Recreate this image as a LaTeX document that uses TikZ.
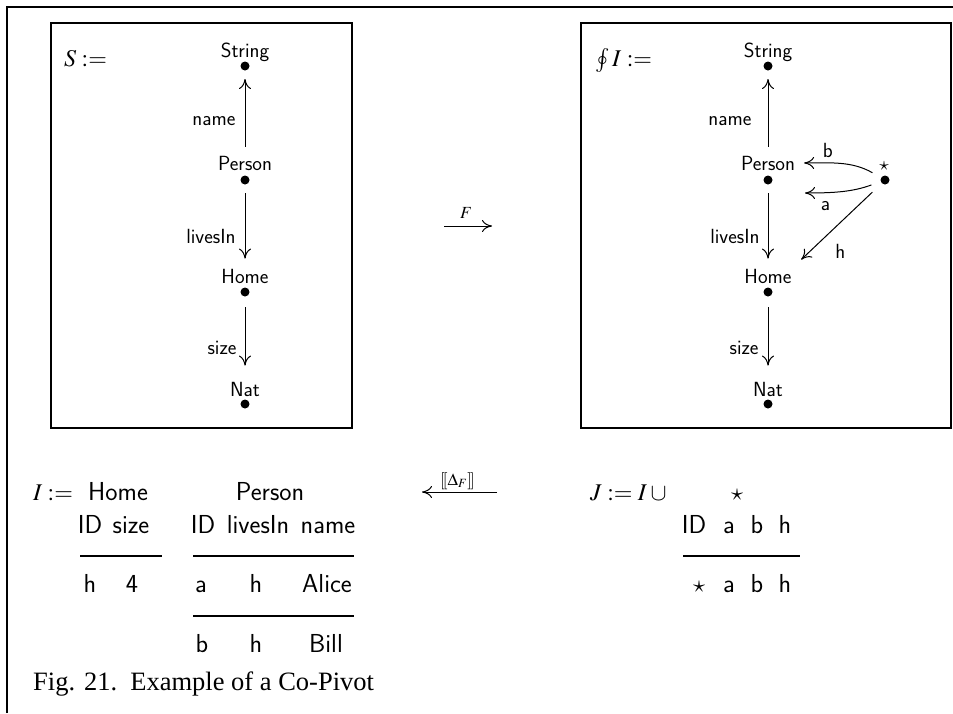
\documentclass[tikz,border=0pt]{standalone}
\usepackage{mathptmx}
\usepackage[no-math]{fontspec}
\setmainfont{Liberation Serif}
\usetikzlibrary{arrows.meta}
\tikzset{
  dot/.style={circle, fill=black, inner sep=0pt, minimum size=9pt, outer sep=0pt},
  vlab/.style={font=\fontsize{20.5}{24}\sffamily, inner sep=0pt, anchor=base},
  elab/.style={font=\fontsize{20.5}{24}\sffamily, inner sep=0pt},
  arr/.style={-{Computer Modern Rightarrow[length=10pt,width=12pt]}, line width=1pt},
  tlab/.style={font=\fontsize{26}{30}\sffamily, inner sep=0pt, anchor=base},
  mlab/.style={font=\fontsize{24}{28}\selectfont, inner sep=0pt, anchor=base west},
  slab/.style={font=\fontsize{17}{20}\selectfont, inner sep=0pt, anchor=base},
  boxline/.style={line width=1.5pt},
  ruleline/.style={line width=1.3pt}
}
\begin{document}
\begin{tikzpicture}[x=1pt,y=1pt]
\useasboundingbox (0,0) rectangle (953,-713);
% outer frame
\draw[line width=1.2pt] (7,-713) -- (7,-7) -- (953,-7);
% boxes
\draw[boxline] (51,-23) rectangle (352,-428);
\draw[boxline] (581,-23) rectangle (951,-428);

% ---------- left graph ----------
\node[mlab] (Sdef) at (64,-66) {$S :=$};
\node[dot] (ls) at (245,-66) {};
\node[vlab] (lsl) at (245,-57) {String};
\node[dot] (lp) at (245,-180) {};
\node[vlab] (lpl) at (245,-170) {Person};
\node[dot] (lh) at (245,-292) {};
\node[vlab] (lhl) at (245,-283) {Home};
\node[dot] (ln) at (245,-404) {};
\node[vlab] (lnl) at (245,-396) {Nat};
\draw[arr, shorten <=9pt, shorten >=8.5pt] (lpl.north) -- node[elab, pos=0.40, anchor=east, xshift=-9pt] {name} (ls.south);
\draw[arr, shorten <=8.5pt, shorten >=10pt] (lp.south) -- node[elab, pos=0.615, anchor=east, xshift=-9pt] {livesIn} (lhl.north);
\draw[arr, shorten <=10.5pt, shorten >=16pt] (lh.south) -- node[elab, pos=0.608, anchor=east, xshift=-8pt] {size} (lnl.north);

% ---------- F arrow ----------
\coordinate (F1) at (444,-226);
\coordinate (F2) at (492,-226);
\draw[arr] (F1) -- node[slab, yshift=8pt, xshift=-2pt] {$F$} (F2);

% ---------- right graph ----------
\node[mlab] (Idef) at (595,-66) {$\oint I :=$};
\node[dot] (rs) at (768,-66) {};
\node[vlab] (rsl) at (768,-57) {String};
\node[dot] (rp) at (768,-180) {};
\node[vlab] (rpl) at (768,-170) {Person};
\node[dot] (rh) at (768,-292) {};
\node[vlab] (rhl) at (768,-283) {Home};
\node[dot] (rn) at (768,-404) {};
\node[vlab] (rnl) at (768,-396) {Nat};
\node[dot] (st) at (885,-180) {};
\node[vlab, font=\fontsize{19}{22}\selectfont] (stl) at (884,-170) {$\star$};
\draw[arr, shorten <=9pt, shorten >=8.5pt] (rpl.north) -- node[elab, pos=0.40, anchor=east, xshift=-16pt] {name} (rs.south);
\draw[arr, shorten <=8.5pt, shorten >=10pt] (rp.south) -- node[elab, pos=0.615, anchor=east, xshift=-8pt] {livesIn} (rhl.north);
\draw[arr, shorten <=10.5pt, shorten >=16pt] (rh.south) -- node[elab, pos=0.608, anchor=east, xshift=-9pt] {size} (rnl.north);
\draw[arr, shorten <=10pt, shorten >=9pt] (st) to[out=150,in=0] node[elab, pos=0.5, xshift=-12pt, yshift=14pt] {b} (rpl.east);
\draw[arr, shorten <=10pt] (st) to[out=200,in=0] node[elab, pos=0.5, xshift=-18pt, yshift=-15pt] {a} ([shift={(37,-13)}]rp.center);
\draw[arr, shorten <=13pt, shorten >=13pt] (st.south west) -- node[elab, pos=0.55, xshift=8pt, yshift=-21pt] {h} (rhl.north east);

% ---------- bottom: instance I ----------
\node[mlab] (Ibot) at (33,-500) {$I :=$};
\node[tlab, anchor=base west] (tHome) at (88,-500) {Home};
\node[tlab] (tPerson) at (270,-500) {Person};
\node[tlab] (hID) at (90,-533) {ID};
\node[tlab] (hsize) at (131,-533) {size};
\node[tlab] (pID) at (203,-533) {ID};
\node[tlab] (plives) at (258,-533) {livesIn};
\node[tlab] (pname) at (328,-533) {name};
\draw[ruleline] (80,-556) -- (162,-556);
\draw[ruleline] (193,-556) -- (354,-556);
\node[tlab] (h1) at (90,-592) {h};
\node[tlab] (h2) at (132,-592) {4};
\node[tlab] (p11) at (201,-592) {a};
\node[tlab] (p12) at (256,-592) {h};
\node[tlab] (p13) at (327,-592) {Alice};
\draw[ruleline] (193,-616) -- (354,-616);
\node[tlab] (p21) at (202,-652) {b};
\node[tlab] (p22) at (256,-652) {h};
\node[tlab] (p23) at (326,-652) {Bill};

% ---------- Delta arrow ----------
\coordinate (D1) at (497,-492);
\coordinate (D2) at (422,-492);
\draw[arr] (D1) -- node[slab, yshift=7pt, xshift=-2pt] {$[\![\Delta_F]\!]$} (D2);

% ---------- J ----------
\node[mlab] (Jdef) at (590,-500) {$J := I \cup{}$};
\node[tlab, font=\fontsize{24}{28}\selectfont] (jstar) at (737,-500) {$\star$};
\node[tlab] (jID) at (694,-533) {ID};
\node[tlab] (ja) at (729,-533) {a};
\node[tlab] (jb) at (757,-533) {b};
\node[tlab] (jh) at (785,-533) {h};
\draw[ruleline] (683,-556) -- (800,-556);
\node[tlab, font=\fontsize{24}{28}\selectfont] (js) at (699,-592) {$\star$};
\node[tlab] (ja2) at (729,-592) {a};
\node[tlab] (jb2) at (757,-592) {b};
\node[tlab] (jh2) at (785,-592) {h};

% ---------- caption ----------
\node[inner sep=0pt, anchor=base west, font=\fontsize{26.5}{30}\selectfont] (cap) at (33,-690) {Fig. 21.\enskip Example of a Co-Pivot};
\end{tikzpicture}
\end{document}
